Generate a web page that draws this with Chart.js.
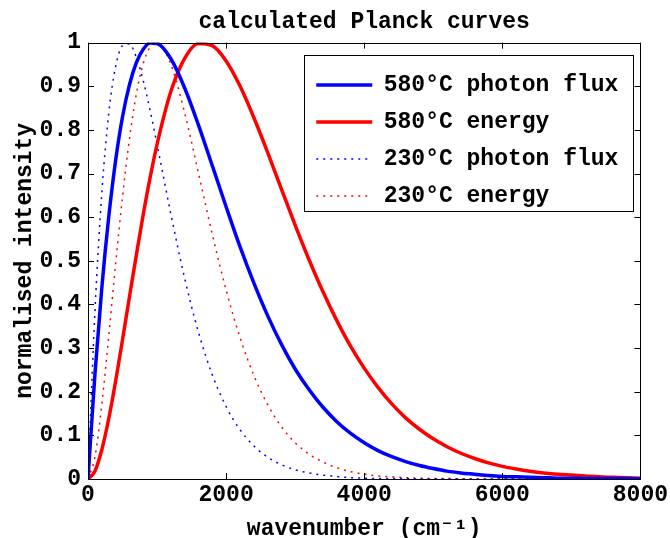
<!DOCTYPE html>
<html>
<head>
<meta charset="utf-8">
<script src="https://cdn.jsdelivr.net/npm/chart.js@4.4.0/dist/chart.umd.min.js"></script>
<style>
  body { margin: 0; background: #fff; }
</style>
</head>
<body>
<canvas id="myChart" width="670" height="538"></canvas>
<script>
/*------------------------------------------------------------------------------------------------*/
//datos
const wavenumber = [0, 100, 200, 300, 400, 500, 600, 700, 800, 900, 1000,
    1200, 1400, 1600, 1800, 2000, 2200, 2400, 2600, 2800, 3000,
    3200, 3400, 3600, 3800, 4000, 4200, 4400, 4600, 4800, 5000,
    5200, 5400, 5600, 5800, 6000, 6200, 6400, 6600, 6800, 7000,
    7200, 7400, 7600, 7800, 8000];

const hotPhoton = [0, 0.239, 0.438, 0.600, 0.730, 0.830, 0.903, 0.954, 0.985, 0.999, 0.998,
    0.963, 0.896, 0.811, 0.718, 0.624, 0.533, 0.450, 0.375, 0.309, 0.252,
    0.205, 0.165, 0.132, 0.105, 0.083, 0.065, 0.051, 0.040, 0.031, 0.024,
    0.018, 0.014, 0.011, 0.008, 0.006, 0.005, 0.004, 0.003, 0.002, 0.002,
    0.001, 0.001, 0.001, 0.001, 0.000];

const hotEnergy = [0, 0.018, 0.067, 0.138, 0.224, 0.319, 0.417, 0.513, 0.606, 0.691, 0.767,
    0.888, 0.964, 0.998, 0.993, 0.958, 0.901, 0.829, 0.749, 0.665, 0.582,
    0.503, 0.430, 0.364, 0.305, 0.254, 0.210, 0.172, 0.140, 0.114, 0.092,
    0.074, 0.059, 0.047, 0.037, 0.029, 0.023, 0.018, 0.014, 0.011, 0.009,
    0.007, 0.005, 0.004, 0.003, 0.002];

const coolPhoton = [0, 0.382, 0.655, 0.837, 0.945, 0.993, 0.997, 0.966, 0.913, 0.844, 0.767,
    0.607, 0.460, 0.336, 0.239, 0.166, 0.113, 0.076, 0.050, 0.033, 0.021,
    0.014, 0.009, 0.006, 0.003, 0.002, 0.001, 0.001, 0.001, 0.000, 0.000,
    0.000, 0.000, 0.000, 0.000, 0.000, 0.000, 0.000, 0.000, 0.000, 0.000,
    0.000, 0.000, 0.000, 0.000, 0.000];

const coolEnergy = [0, 0.050, 0.171, 0.327, 0.493, 0.647, 0.779, 0.882, 0.952, 0.990, 1.000,
    0.950, 0.839, 0.701, 0.561, 0.433, 0.325, 0.238, 0.171, 0.120, 0.083,
    0.057, 0.039, 0.026, 0.017, 0.011, 0.007, 0.005, 0.003, 0.002, 0.001,
    0.001, 0.000, 0.000, 0.000, 0.000, 0.000, 0.000, 0.000, 0.000, 0.000,
    0.000, 0.000, 0.000, 0.000, 0.000];

const seriesNames = ['580°C photon flux', '580°C energy', '230°C photon flux', '230°C energy'];

const xTicks = [0, 2000, 4000, 6000, 8000];

/*------------------------------------------------------------------------------------------------*/
//estilo
const fuente = "'Liberation Mono', 'DejaVu Sans Mono', monospace";
const tam = 23;

const toPoints = (arr) => wavenumber.map((w, i) => ({x: w, y: arr[i]}));

/*------------------------------------------------------------------------------------------------*/
//caja, ticks hacia dentro, leyenda
const matlabAxes = {
    id: 'matlabAxes',
    afterLayout(chart) {
        const ca = chart.chartArea;
        // titulo centrado sobre el area del grafico
        if (chart.titleBlock) {
            chart.titleBlock.left = ca.left;
            chart.titleBlock.right = ca.right;
            chart.titleBlock.width = ca.right - ca.left;
        }
        const lg = chart.legend;
        if (lg) {
            lg.left = ca.right - lg.width - 12;
            lg.right = lg.left + lg.width;
            lg.top = ca.top + 17;
            lg.bottom = ca.bottom;
        }
    },
    beforeDraw(chart) {
        const lg = chart.legend;
        const ca = chart.chartArea;
        const ctx = chart.ctx;
        const pad = lg.options.labels.padding;
        const h = 4 * (tam + pad) + 8;
        const x0 = Math.round(lg.left) + 2.5;
        const y0 = Math.round(lg.top) - 4.5;
        const w = Math.round(ca.right - 7 - x0);
        ctx.save();
        ctx.fillStyle = '#fff';
        ctx.fillRect(x0, y0, w, h);
        ctx.strokeStyle = '#000';
        ctx.lineWidth = 1;
        ctx.strokeRect(x0, y0, w, h);
        ctx.restore();
    },
    afterDatasetsDraw(chart) {
        const ctx = chart.ctx;
        const ca = chart.chartArea;
        const xs = chart.scales.x;
        const ys = chart.scales.y;
        const len = 6;
        ctx.save();
        ctx.strokeStyle = '#000';
        ctx.lineWidth = 1;
        ctx.beginPath();
        xs.ticks.forEach(t => {
            const px = Math.round(xs.getPixelForValue(t.value)) + 0.5;
            ctx.moveTo(px, ca.bottom); ctx.lineTo(px, ca.bottom - len);
            ctx.moveTo(px, ca.top); ctx.lineTo(px, ca.top + len);
        });
        ys.ticks.forEach(t => {
            const py = Math.round(ys.getPixelForValue(t.value)) + 0.5;
            ctx.moveTo(ca.left, py); ctx.lineTo(ca.left + len, py);
            ctx.moveTo(ca.right, py); ctx.lineTo(ca.right - len, py);
        });
        ctx.stroke();
        ctx.strokeRect(Math.round(ca.left) + 0.5, Math.round(ca.top) + 0.5,
            Math.round(ca.right - ca.left), Math.round(ca.bottom - ca.top));
        ctx.restore();
    }
};

/*------------------------------------------------------------------------------------------------*/
//grafico
var ctx = document.getElementById('myChart');
var myChart = new Chart(ctx, {
    type: 'line',
    data: {
        datasets: [{
            label: seriesNames[0],
            data: toPoints(hotPhoton),
            borderColor: '#0000ff',
            backgroundColor: '#0000ff',
            borderWidth: 3.5
        }, {
            label: seriesNames[1],
            data: toPoints(hotEnergy),
            borderColor: '#ff0000',
            backgroundColor: '#ff0000',
            borderWidth: 3.5
        }, {
            label: seriesNames[2],
            data: toPoints(coolPhoton),
            borderColor: '#0000ff',
            backgroundColor: '#0000ff',
            borderWidth: 1.5,
            borderDash: [2, 5]
        }, {
            label: seriesNames[3],
            data: toPoints(coolEnergy),
            borderColor: '#ff0000',
            backgroundColor: '#ff0000',
            borderWidth: 1.5,
            borderDash: [2, 5]
        }]
    },
    options: {
        responsive: false,
        animation: false,
        cubicInterpolationMode: 'monotone',
        elements: { point: { radius: 0 } },
        layout: { padding: { left: 0, right: 29, top: 0, bottom: 0 } },
        scales: {
            x: {
                type: 'linear',
                min: 0,
                max: 8000,
                afterBuildTicks: (scale) => { scale.ticks = xTicks.map(v => ({value: v})); },
                afterFit: (scale) => { scale.height = 59; },
                grid: { display: false, drawTicks: false },
                border: { display: false },
                ticks: {
                    color: '#000',
                    padding: 2,
                    maxRotation: 0,
                    font: { family: fuente, size: tam, weight: 'bold' },
                    callback: (v) => String(v)
                },
                title: {
                    display: true,
                    text: 'wavenumber (cm⁻¹)',
                    color: '#000',
                    padding: { top: 0, bottom: -3 },
                    font: { family: fuente, size: tam, weight: 'bold', lineHeight: 1 }
                }
            },
            y: {
                min: 0,
                max: 1,
                afterFit: (scale) => { scale.width = 88; },
                grid: { display: false, drawTicks: false },
                border: { display: false },
                ticks: {
                    color: '#000',
                    padding: 7,
                    stepSize: 0.1,
                    font: { family: fuente, size: tam, weight: 'bold' },
                    callback: (v) => String(Math.round(v * 10) / 10)
                },
                title: {
                    display: true,
                    text: 'normalised intensity',
                    color: '#000',
                    padding: { top: 11, bottom: 0 },
                    font: { family: fuente, size: tam, weight: 'bold' }
                }
            }
        },
        plugins: {
            title: {
                display: true,
                text: 'calculated Planck curves',
                color: '#000',
                padding: { top: 8, bottom: 7 },
                font: { family: fuente, size: tam, weight: 'bold' }
            },
            legend: {
                position: 'chartArea',
                align: 'start',
                labels: {
                    color: '#000',
                    usePointStyle: true,
                    pointStyle: 'line',
                    pointStyleWidth: 56,
                    padding: 14,
                    font: { family: fuente, size: tam, weight: 'bold' },
                    generateLabels: (chart) => {
                        const items = Chart.defaults.plugins.legend.labels.generateLabels(chart);
                        items.forEach(it => {
                            const ds = chart.data.datasets[it.datasetIndex];
                            it.lineDash = ds.borderDash || [];
                            it.lineWidth = ds.borderWidth;
                        });
                        return items;
                    }
                }
            },
            tooltip: { enabled: false }
        }
    },
    plugins: [matlabAxes]
});
</script>
</body>
</html>
